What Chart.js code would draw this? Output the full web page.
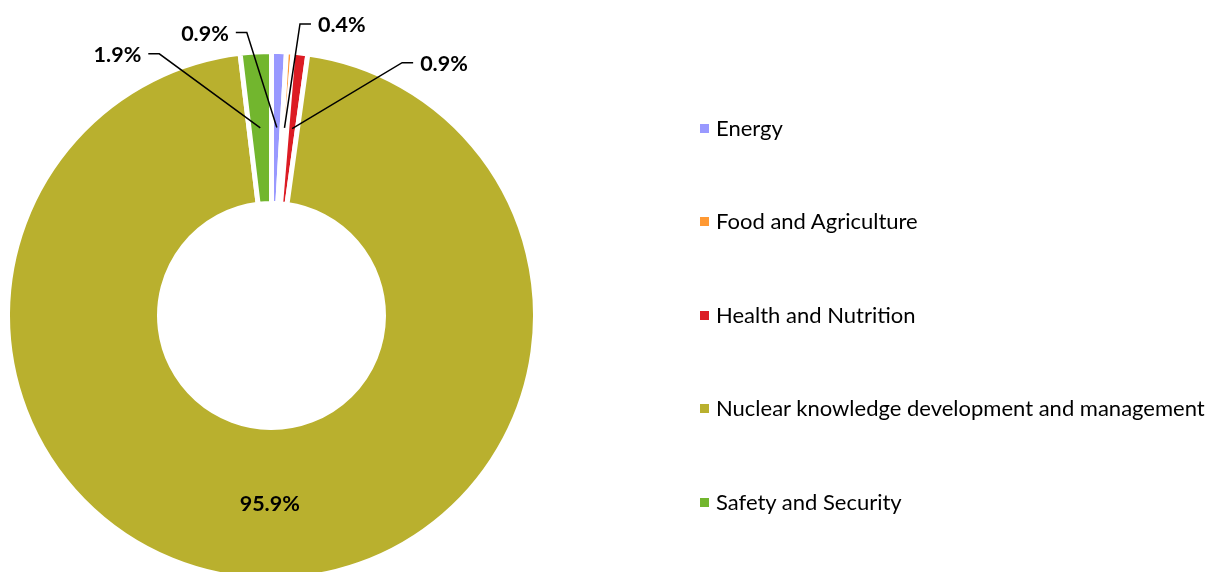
<!DOCTYPE html>
<html><head><meta charset="utf-8">
<script src="https://cdn.jsdelivr.net/npm/chart.js@4"></script>
<style>
html,body{margin:0;padding:0;background:#fff;overflow:hidden;width:1213px;height:572px;}
#wrap{position:relative;width:1213px;height:572px;overflow:hidden;}
canvas{position:absolute;left:0;top:0;}
#legend{position:absolute;left:700px;top:80.5px;font-family:Lato, sans-serif;font-size:22px;color:#000;}
.row{height:93.5px;display:flex;align-items:center;white-space:nowrap;}
.box{width:9px;height:9px;margin-right:7px;flex:none;position:relative;top:1px;}
</style></head><body>
<div id="wrap"><canvas id="c" width="1213" height="582"></canvas><div id="legend"></div></div>
<script>
const categories = ['Energy','Food and Agriculture','Health and Nutrition','Nuclear knowledge development and management','Safety and Security'];
const shares = [0.9, 0.4, 0.9, 95.9, 1.9];
const colors = ['#9999FF','#FF9933','#DC1C24','#B9B02E','#72B62E'];
// label layout (leader elbow offset from slice centroid); null = label inside slice
const leaderOffsets = [[-30,-95],[15.5,-104],[110,-66],null,[-101,-74]];

const labelPlugin = {
  id: 'sliceLabels',
  afterDatasetsDraw(chart) {
    const ctx = chart.ctx;
    const meta = chart.getDatasetMeta(0);
    ctx.save();
    ctx.font = 'bold 21.5px Lato, sans-serif';
    ctx.fillStyle = '#000';
    ctx.strokeStyle = '#000';
    ctx.lineWidth = 1.5;
    meta.data.forEach((arc, i) => {
      const p = arc.getProps(['x','y','startAngle','endAngle','innerRadius','outerRadius'], true);
      const mid = (p.startAngle + p.endAngle) / 2;
      const r = (p.innerRadius + p.outerRadius) / 2;
      const ax = p.x + Math.cos(mid) * r, ay = p.y + Math.sin(mid) * r;
      const txt = shares[i].toFixed(1) + '%';
      const off = leaderOffsets[i];
      ctx.textBaseline = 'middle';
      if (!off) { ctx.textAlign = 'center'; ctx.fillText(txt, ax, ay + 1); return; }
      const ex = ax + off[0], ey = ay + off[1];
      const dir = off[0] < 0 ? -1 : 1;
      const hx = ex + dir * 11;
      ctx.beginPath(); ctx.moveTo(ax, ay); ctx.lineTo(ex, ey); ctx.lineTo(hx, ey); ctx.stroke();
      ctx.textAlign = dir < 0 ? 'right' : 'left';
      ctx.fillText(txt, hx + dir * 7, ey + 1);
    });
    ctx.restore();
  }
};

const chart = new Chart(document.getElementById('c'), {
  type: 'doughnut',
  data: {
    labels: categories,
    datasets: [{
      data: shares,
      backgroundColor: colors,
      borderColor: '#ffffff',
      borderWidth: 5,
      hoverBorderWidth: 5,
      hoverOffset: 0
    }]
  },
  options: {
    responsive: false,
    animation: false,
    events: [],
    cutout: '42.42%',
    layout: { padding: { left: 5, top: 49, right: 675, bottom: 0 } },
    plugins: { legend: { display: false }, tooltip: { enabled: false } }
  },
  plugins: [labelPlugin]
});

const items = Chart.overrides.doughnut.plugins.legend.labels.generateLabels(chart);
const legendEl = document.getElementById('legend');
items.forEach(it => {
  const row = document.createElement('div'); row.className = 'row';
  const box = document.createElement('span'); box.className = 'box'; box.style.background = it.fillStyle;
  const t = document.createElement('span'); t.textContent = it.text;
  row.appendChild(box); row.appendChild(t); legendEl.appendChild(row);
});
</script>
</body></html>
